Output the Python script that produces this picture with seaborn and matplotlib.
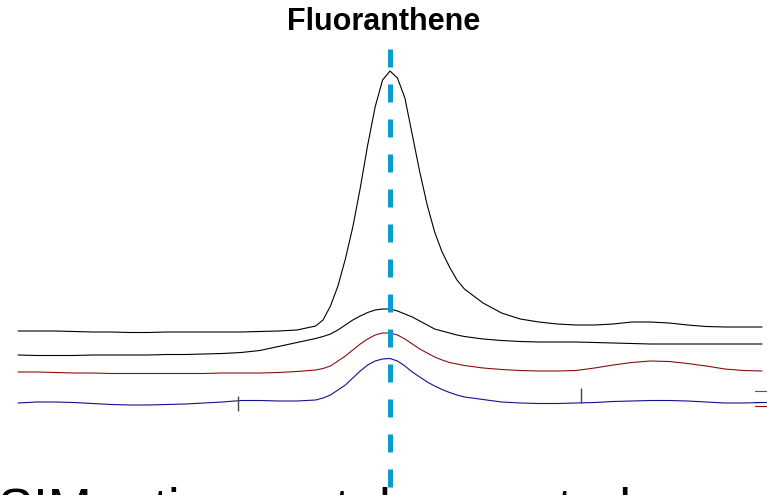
import matplotlib
matplotlib.use("Agg")
import matplotlib.pyplot as plt
import numpy as np
import pandas as pd
import seaborn as sns

# Retention time grid (minutes)
times = [9.350, 9.375, 9.400, 9.425, 9.450, 9.475, 9.500, 9.525, 9.550, 9.575,
         9.600, 9.625, 9.650, 9.675, 9.700, 9.725, 9.750,
         9.760, 9.770, 9.780, 9.790, 9.800, 9.810, 9.820, 9.830, 9.840,
         9.850, 9.860, 9.870, 9.880, 9.890, 9.900, 9.910, 9.920, 9.930, 9.940, 9.950,
         9.975, 10.000, 10.025, 10.050, 10.075, 10.100, 10.125, 10.150, 10.175,
         10.200, 10.225, 10.250, 10.275, 10.300, 10.325, 10.350]

# Baseline-corrected signals of the four ion traces
sig_202 = [0, 0, 0, -0.5, -1, -1, -1.5, -1.5, -1, -1, -1, -1, -1, -0.5, 0, 1, 5,
           11, 25, 45, 72, 104, 143, 186, 224, 251, 260, 253, 233, 196, 159, 126, 99, 79, 64, 51, 42,
           28, 18, 12, 9, 7, 6, 6, 7, 9, 9, 8, 6, 4.5, 4, 4, 4]
sig_101 = [0, -0.5, -0.5, -0.5, 0, 0, 0, 0, 0.5, 0.5, 1, 1.5, 2.5, 4.5, 8.5, 12.5, 16.5,
           18.5, 21, 25, 30, 35, 39, 42.5, 45, 46, 46, 44, 41, 38, 34, 30, 26, 24, 22, 20, 18.5,
           16, 14.5, 13.5, 13, 13, 13, 12.5, 12, 11.5, 11, 11, 11, 11, 11, 11, 11]
sig_203 = [0, 0, -0.5, -1, -1, -1.5, -1.5, -1.5, -1.5, -1.5, -1.5, -1, -1, -1, -0.5, 0.5, 2,
           3.5, 6, 11, 16, 22, 28, 33, 37, 39, 39, 37, 33, 28, 23, 19, 15, 12, 9.5, 8, 6.5,
           4, 2.5, 1.5, 1, 1, 1.5, 4, 7, 9.5, 11, 10.5, 8.5, 6, 3, 1.5, 1]
sig_200 = [0, 1, 1, 0.5, -0.5, -1.5, -2, -2, -1.5, -1, 0, 1, 2.5, 2.5, 2, 2, 3,
           5, 8, 13, 18, 25, 32, 38, 42, 44, 44.5, 42, 37, 31, 26, 21, 17, 13.5, 10.5, 8, 6,
           3.5, 1, 0, -0.5, -0.5, 0, 0.5, 1.5, 2, 2.5, 2.5, 2, 1, 0, 0, 0.5]

trace_names = ["m/z 202", "m/z 101", "m/z 203", "m/z 200"]
trace_colors = ["black", "black", "#8b0f0f", "#12128f"]
trace_offsets = [164, 140, 123, 92]

# Integration boundaries marked on the m/z 200 trace
mark_times = [9.6457, 10.1067]
mark_low = [-8, 0]
mark_high = [7, 15]

# Expected retention time of the compound
expected_rt = 9.85

# First samples of the traces in the neighbouring panel
next_times = [9.350, 9.375]
next_levels = {"m/z 202": [104, 104], "m/z 200": [93, 93], "m/z 203": [89.3, 89.3]}

sns.set_theme(style="white")
plt.rcParams["font.family"] = ["Liberation Sans", "DejaVu Sans"]

rows = []
for name, sig, off in zip(trace_names, [sig_202, sig_101, sig_203, sig_200], trace_offsets):
    for t, s in zip(times, sig):
        rows.append({"time": t, "level": off + s, "trace": name})
df = pd.DataFrame(rows)

fig = plt.figure(figsize=(7.67, 4.95), dpi=100)
ax = fig.add_axes([0, 0, 1, 1])
sns.lineplot(data=df, x="time", y="level", hue="trace", hue_order=trace_names,
             palette=dict(zip(trace_names, trace_colors)), linewidth=0.8,
             estimator=None, sort=False, legend=False, ax=ax)

ax.vlines(mark_times, [trace_offsets[3] + v for v in mark_low],
          [trace_offsets[3] + v for v in mark_high], color="#444444", linewidth=1.0, zorder=4)

ax.axvline(expected_rt, ymin=(495 - 49) / 495, ymax=-0.05, color="#0a9bcf",
           linewidth=3.6, dashes=(3.6, 3.4), zorder=6)

ax.set_xlim(9.3258, 10.3567)
ax.set_ylim(0, 495)
ax.axis("off")

# neighbouring panel, mostly outside the canvas
ax2 = fig.add_axes([737 / 767, 0, 1, 1])
ndf = pd.DataFrame([{"time": t, "level": v, "trace": k}
                    for k, vals in next_levels.items() for t, v in zip(next_times, vals)])
sns.lineplot(data=ndf, x="time", y="level", hue="trace",
             palette={"m/z 202": "#555555", "m/z 200": "#12128f", "m/z 203": "#8b0f0f"},
             linewidth=0.8, estimator=None, sort=False, legend=False, ax=ax2)
ax2.set_xlim(9.3258, 10.3567)
ax2.set_ylim(0, 495)
ax2.axis("off")

fig.text(0.5, (495 - 30.5) / 495, "Fluoranthene", ha="center", va="baseline",
         fontsize=22, fontweight="bold", color="black")
fig.text(-2 / 767, (495 - 526) / 495, "SIM ratio coastal vs control", ha="left",
         va="baseline", fontsize=38, color="black")

fig.savefig("out.png", dpi=100)
